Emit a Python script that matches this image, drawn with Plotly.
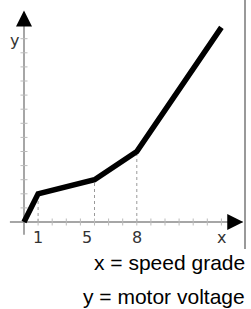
import plotly.graph_objects as go

# data
speed_grade = [0, 1, 5, 8, 14]
motor_voltage = [0, 2, 3, 5, 13.8]
tick_values = [1, 5, 8]
tick_labels = ["1", "5", "8"]
x_label = "x"
y_label = "y"
legend_lines = ["x = speed grade", "y = motor voltage"]

# pixel mapping helpers (layout only)
W, H = 251, 309
ox, oy, unit = 24, 222, 14.1
xr = [-ox / unit, (W - ox) / unit]
yr = [-(H - oy) / unit, oy / unit]

fig = go.Figure()

# faint tick marks on axes
fig.add_trace(go.Scatter(
    x=list(range(1, 16)), y=[0] * 15, mode="markers",
    marker=dict(symbol="line-ns", size=5, line=dict(color="#bbbbbb", width=1)),
    hoverinfo="skip", showlegend=False))
fig.add_trace(go.Scatter(
    x=[0] * 14, y=list(range(1, 15)), mode="markers",
    marker=dict(symbol="line-ew", size=5, line=dict(color="#bbbbbb", width=1)),
    hoverinfo="skip", showlegend=False))

# dotted drop lines
for xv, yv in zip(speed_grade[1:4], motor_voltage[1:4]):
    fig.add_shape(type="line", x0=xv, x1=xv, y0=0, y1=yv,
                  line=dict(color="#999999", width=1, dash="dot"), layer="below")

# axes
fig.add_shape(type="line", x0=-1.0, x1=15.5, y0=0, y1=0,
              line=dict(color="#888888", width=1.5), layer="below")
fig.add_shape(type="line", x0=0, x1=0, y0=-0.9, y1=14.9,
              line=dict(color="#888888", width=1.5), layer="below")
# arrowheads
fig.add_annotation(x=15.55, y=0, ax=14.8, ay=0, axref="x", ayref="y",
                   xref="x", yref="y", showarrow=True, arrowhead=2, arrowsize=1.6,
                   arrowwidth=2, arrowcolor="black", text="")
fig.add_annotation(x=0, y=15.0, ax=0, ay=14.3, axref="x", ayref="y",
                   xref="x", yref="y", showarrow=True, arrowhead=2, arrowsize=1.6,
                   arrowwidth=2, arrowcolor="black", text="")

# right border line
fig.add_shape(type="line", xref="paper", yref="paper", x0=245 / W, x1=245 / W,
              y0=1, y1=1 - 249 / H, line=dict(color="#999999", width=2))

# main line
fig.add_trace(go.Scatter(x=speed_grade, y=motor_voltage, mode="lines",
                         line=dict(color="black", width=5.5),
                         hoverinfo="skip", showlegend=False))

tick_font = dict(family="DejaVu Sans", size=16, color="#333333")
shifts = [0, -8, 0]
for tv, tl, s in zip(tick_values, tick_labels, shifts):
    fig.add_annotation(x=tv, y=0, xref="x", yref="y", text=tl, showarrow=False,
                       yshift=-15, xshift=s, font=tick_font)
fig.add_annotation(x=14, y=0, xref="x", yref="y", text=x_label, showarrow=False,
                   yshift=-15, font=tick_font)
fig.add_annotation(x=0, y=12.9, xref="x", yref="y", text=y_label, showarrow=False,
                   xshift=-10, font=tick_font)

text_font = dict(family="Liberation Sans", size=21, color="black")
for i, t in enumerate(legend_lines):
    fig.add_annotation(x=247 / W, y=1 - (262 + 34 * i) / H, xref="paper", yref="paper",
                       text=t, showarrow=False, xanchor="right", yanchor="middle",
                       font=text_font)

fig.update_layout(
    width=W, height=H, margin=dict(l=0, r=0, t=0, b=0),
    paper_bgcolor="white", plot_bgcolor="white",
    xaxis=dict(range=xr, visible=False, fixedrange=True),
    yaxis=dict(range=yr, visible=False, fixedrange=True),
    showlegend=False,
)
fig.write_html("out.html", config={"displayModeBar": False},
               post_script="document.body.style.margin='0';document.body.style.overflow='hidden';")
